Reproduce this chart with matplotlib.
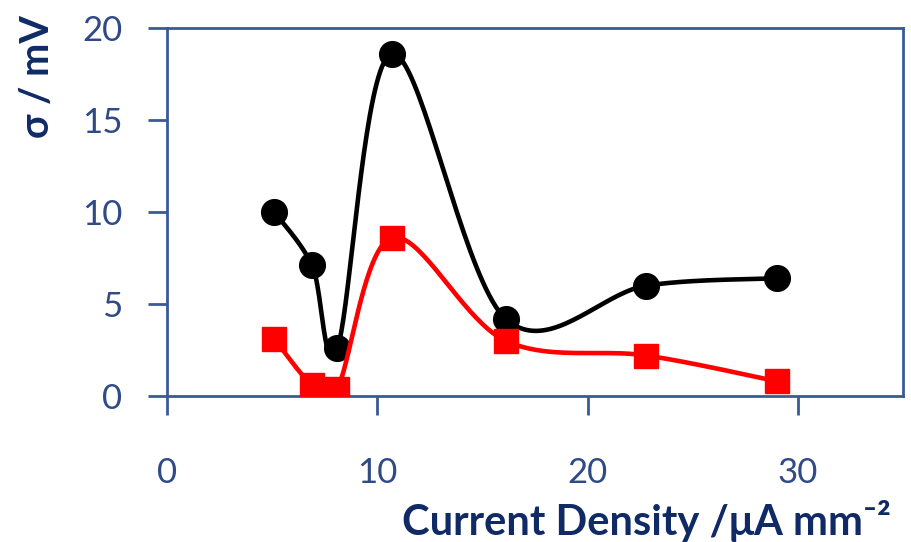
import numpy as np
import matplotlib
matplotlib.use("Agg")
import matplotlib.pyplot as plt

# Measurements
current_density = [5.1, 6.9, 8.1, 10.7, 16.1, 22.8, 29.0]
sigma_black = [10.0, 7.1, 2.6, 18.6, 4.2, 6.0, 6.4]
sigma_red = [3.1, 0.6, 0.4, 8.6, 3.0, 2.2, 0.8]

x_ticks = [0, 10, 20, 30]
y_ticks = [0, 5, 10, 15, 20]

AXIS_COLOR = "#3A5A96"
TICK_COLOR = "#2F4A85"
LABEL_COLOR = "#102A66"

plt.rcParams["font.family"] = ["Lato", "DejaVu Sans"]

fig = plt.figure(figsize=(9.12, 5.42), dpi=100)
ax = fig.add_axes([0.1831, 0.2694, 0.8070, 0.6789])
ax.set_xlim(0, 35)
ax.set_ylim(0, 20)


def smooth_curve(ax, xs, ys, n=40):
    """Catmull-Rom style Bezier smoothing computed in display space."""
    pts = ax.transData.transform(np.column_stack([xs, ys]))
    out = [pts[0]]
    m = len(pts)
    for i in range(m - 1):
        p0 = pts[i - 1] if i > 0 else pts[i]
        p1 = pts[i]
        p2 = pts[i + 1]
        p3 = pts[i + 2] if i + 2 < m else pts[i + 1]
        c1 = p1 + (p2 - p0) / 6.0
        c2 = p2 - (p3 - p1) / 6.0
        t = np.linspace(0, 1, n)[1:, None]
        seg = ((1 - t) ** 3) * p1 + 3 * ((1 - t) ** 2) * t * c1 \
            + 3 * (1 - t) * t ** 2 * c2 + t ** 3 * p2
        out.extend(seg)
    out = np.array(out)
    return ax.transData.inverted().transform(out)


black_curve = smooth_curve(ax, current_density, sigma_black)
red_curve = smooth_curve(ax, current_density, sigma_red)

ax.plot(black_curve[:, 0], black_curve[:, 1], color="black", lw=3.3, zorder=3,
        solid_capstyle="round")
ax.plot(current_density, sigma_black, "o", color="black", ms=18.5, zorder=4)
ax.plot(red_curve[:, 0], red_curve[:, 1], color="#FF0000", lw=3.3, zorder=5,
        solid_capstyle="round")
ax.plot(current_density, sigma_red, "s", color="#FF0000", ms=17.5, zorder=6)

for side in ["left", "right", "top", "bottom"]:
    ax.spines[side].set_color(AXIS_COLOR)
    ax.spines[side].set_linewidth(2)

ax.set_xticks(x_ticks)
ax.set_yticks(y_ticks)
ax.tick_params(axis="both", direction="out", length=14, width=2,
               color=AXIS_COLOR, labelcolor=TICK_COLOR, labelsize=25)
ax.tick_params(axis="x", pad=30)
ax.tick_params(axis="y", pad=18)

fig.text(0.977, 0.038, "Current Density /μA mm⁻²", ha="right", va="center",
         fontsize=30, fontweight="bold", color=LABEL_COLOR)
fig.text(0.041, 0.858, "σ / mV", ha="center", va="center", rotation=90,
         fontsize=28.5, fontweight="bold", color=LABEL_COLOR)

fig.savefig("out.png", dpi=100)
